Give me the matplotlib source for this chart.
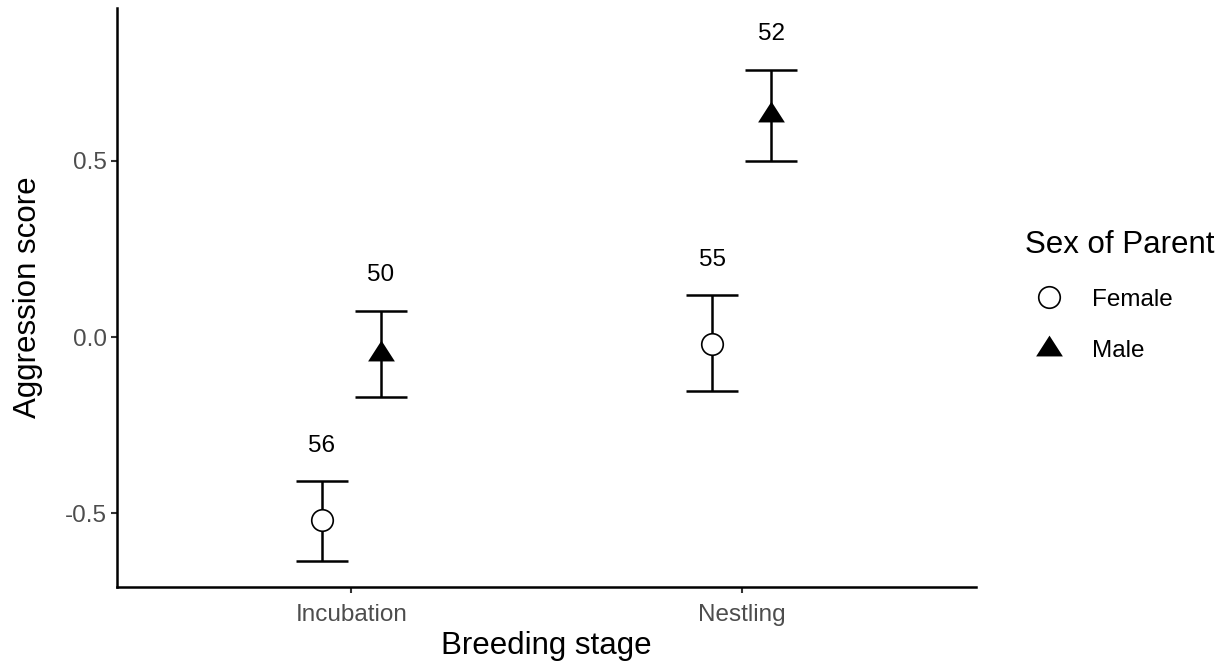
import numpy as np
import matplotlib
matplotlib.use("Agg")
import matplotlib.pyplot as plt
from matplotlib.path import Path

plt.rcParams["font.family"] = ["Liberation Sans", "DejaVu Sans"]

stages = ["Incubation", "Nestling"]
sexes = ["Female", "Male"]

female_mean = [-0.52, -0.018]
female_lower = [-0.634, -0.154]
female_upper = [-0.409, 0.119]
female_n = [56, 55]

male_mean = [-0.048, 0.630]
male_lower = [-0.171, 0.501]
male_upper = [0.075, 0.759]
male_n = [50, 52]

DODGE = 0.075
LABEL_GAP = 0.1

# filled triangle centred on its centroid
tri = Path([(0, 14), (-13.5, -7), (13.5, -7), (0, 14)],
           [Path.MOVETO, Path.LINETO, Path.LINETO, Path.CLOSEPOLY])

fig = plt.figure(figsize=(12.25, 6.65), dpi=100)
ax = fig.add_axes([117 / 1225, 78 / 665, 859 / 1225, 579 / 665])

x = np.arange(1, len(stages) + 1)
groups = [
    ("Female", -DODGE, female_mean, female_lower, female_upper, female_n,
     dict(marker="o", markersize=15.5, markerfacecolor="white", markeredgewidth=1.2)),
    ("Male", DODGE, male_mean, male_lower, male_upper, male_n,
     dict(marker=tri, markersize=20, markerfacecolor="black", markeredgewidth=0)),
]

handles = []
for name, off, mean, lo, hi, n, mstyle in groups:
    xs = x + off
    mean = np.array(mean)
    lo = np.array(lo)
    hi = np.array(hi)
    ax.errorbar(xs, (lo + hi) / 2, yerr=[(hi - lo) / 2, (hi - lo) / 2], fmt="none",
                ecolor="black", elinewidth=1.8, capsize=18.5, capthick=1.8, zorder=2)
    h, = ax.plot(xs, mean, linestyle="none", color="black", markeredgecolor="black",
                 label=name, zorder=3, **mstyle)
    handles.append(h)
    for xi, yi, ni in zip(xs, hi + LABEL_GAP, n):
        ax.text(xi, yi, str(ni), ha="center", va="center", fontsize=17.5, color="black")

ymin = min(min(female_lower), min(male_lower))
ymax = max(max(female_upper), max(male_upper)) + LABEL_GAP
pad = (ymax - ymin) * 0.05
ax.set_ylim(ymin - pad, ymax + pad)
ax.set_xlim(0.4, len(stages) + 0.6)

ax.set_xticks(x)
ax.set_xticklabels(stages)
ax.set_yticks([-0.5, 0.0, 0.5])
ax.set_yticklabels(["-0.5", "0.0", "0.5"])

for side in ["top", "right"]:
    ax.spines[side].set_visible(False)
for side in ["left", "bottom"]:
    ax.spines[side].set_linewidth(1.8)
ax.tick_params(axis="both", length=4, width=1.5, color="#333333",
               labelsize=17.5, labelcolor="#4D4D4D")
ax.tick_params(axis="x", pad=8)
ax.tick_params(axis="y", pad=3)

ax.set_xlabel("Breeding stage", fontsize=22.5, labelpad=4)
ax.set_ylabel("Aggression score", fontsize=22.5, labelpad=16)

leg = fig.legend(handles=handles, labels=sexes, title="Sex of Parent",
                 loc="upper left", bbox_to_anchor=(1015 / 1225, 1 - 220 / 665),
                 frameon=False, fontsize=17.5, title_fontsize=22.5,
                 handletextpad=0.75, labelspacing=1.2, borderaxespad=0)
leg._legend_box.align = "left"

fig.savefig("out.png", dpi=100)
